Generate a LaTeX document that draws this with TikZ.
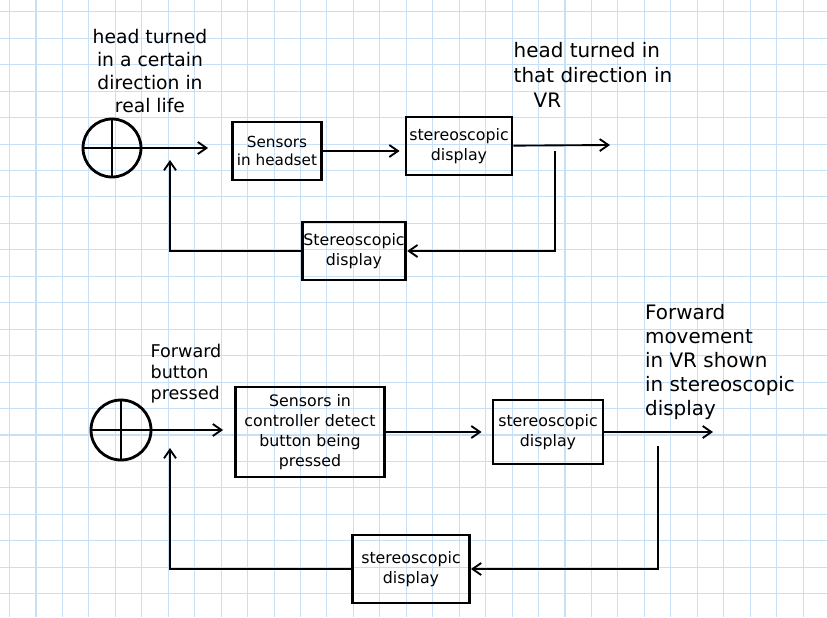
\documentclass[tikz,border=0pt]{standalone}
\usepackage{fontspec}
\setmainfont{DejaVu Sans}
\usetikzlibrary{arrows.meta,positioning,calc}
\definecolor{gridblue}{RGB}{200,224,246}
\tikzset{
  every picture/.style={line width=1.6pt},
  gridln/.style={draw=gridblue, line width=0.9pt},
  sblock/.style={draw, line width=2.4pt, align=center, inner sep=1pt,
                 font=\fontsize{13.5}{17}\selectfont},
  ssum/.style={draw, circle, line width=2.4pt, inner sep=0pt},
  scross/.style={line width=2pt},
  sconn/.style={-{Straight Barb[length=2.6mm,width=3.6mm]}, line width=1.6pt},
  snote/.style={align=left, inner sep=0pt},
}

\begin{document}
\begin{tikzpicture}[x=0.3mm,y=-0.3mm]
  \useasboundingbox (0,0) rectangle (827,617);
  % squared paper
  \foreach \k in {0,...,31} \draw[gridln] ({9.55+26.45*\k},0) -- ++(0,617);
  \foreach \k in {0,...,23} \draw[gridln] (0,{11.8+26.45*\k}) -- ++(827,0);

  % head tracking loop
  \node[ssum, minimum size=17.4mm] (sum1) at (112,148) {};
  \draw[scross] (sum1.west) -- (sum1.east) (sum1.north) -- (sum1.south);
  \node[sblock, minimum width=26.7mm, minimum height=17.4mm,
        font=\fontsize{13}{15.5}\selectfont] (sens1) at (277,151)
        {Sensors\\in headset};
  \node[sblock, minimum width=31.8mm, minimum height=17.4mm] (disp1) at (459,146)
        {stereoscopic\\display};
  \node[sblock, minimum width=30.6mm, minimum height=17.4mm] (fdbk1) at (354,251)
        {Stereoscopic\\display};
  \coordinate (out1) at (610,145);
  \coordinate (tap1) at (555,151);
  \coordinate (fb1) at (170,160);
  \draw[sconn, shorten >=6.9mm] (sum1) -- (sum1 -| sens1.west);
  \draw[sconn, shorten >=1.5mm] (sens1) -- (sens1 -| disp1.west);
  \draw[sconn] (disp1) -- (out1);
  \draw[sconn] (tap1) |- (fdbk1);
  \draw[sconn] (fdbk1) -| (fb1);
  \node[snote, align=center, font=\fontsize{16}{19.5}\selectfont] (in1) at (150,71)
        {head turned\\in a certain\\direction in\\real life};
  \node[snote, font=\fontsize{17}{21}\selectfont] (vr1) at (593,75)
        {head turned in\\that direction in\\\quad VR};

  % controller loop
  \node[ssum, minimum size=18mm] (sum2) at (121,430) {};
  \draw[scross] (sum2.west) -- (sum2.east) (sum2.north) -- (sum2.south);
  \node[sblock, minimum width=44.7mm, minimum height=27mm] (ctrl) at (310,432)
        {Sensors in\\controller detect\\button being\\pressed};
  \node[sblock, minimum width=33mm, minimum height=19.2mm] (disp2) at (548,432)
        {stereoscopic\\display};
  \node[sblock, minimum width=35.1mm, minimum height=20.4mm] (fdbk2) at (411,569)
        {stereoscopic\\display};
  \coordinate (out2) at (713,432);
  \coordinate (tap2) at (658,446);
  \coordinate (fb2) at (170,448);
  \draw[sconn, shorten >=3.3mm] (sum2) -- (sum2 -| ctrl.west);
  \draw[sconn, shorten >=3mm] (ctrl) -- (ctrl -| disp2.west);
  \draw[sconn] (disp2) -- (out2);
  \draw[sconn] (tap2) |- (fdbk2);
  \draw[sconn] (fdbk2) -| (fb2);
  \node[snote, font=\fontsize{15}{18}\selectfont] (in2) at (186,374)
        {Forward\\button\\pressed};
  \node[snote, font=\fontsize{17}{20.5}\selectfont] (vr2) at (720,362)
        {Forward\\movement\\in VR shown\\in stereoscopic\\display};
\end{tikzpicture}
\end{document}
